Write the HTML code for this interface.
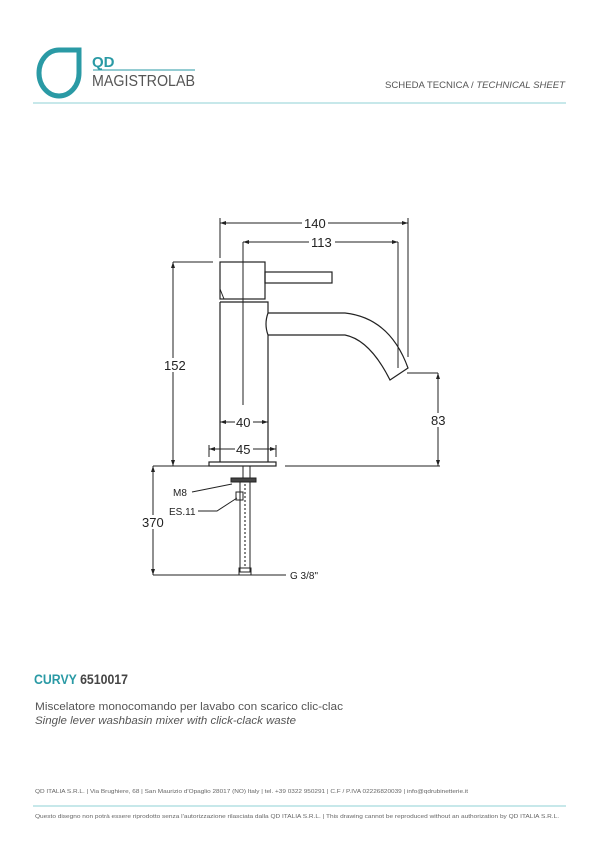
<!DOCTYPE html>
<html><head><meta charset="utf-8"><style>
html,body{margin:0;padding:0;background:#fff;width:600px;height:849px;overflow:hidden}
svg{display:block}
text{font-family:"Liberation Sans",sans-serif}
</style></head><body>
<svg width="600" height="849" viewBox="0 0 600 849" xmlns="http://www.w3.org/2000/svg">
<!-- header -->
<path d="M79,50 L59,50 A20,23 0 0 0 39,73 A20,23 0 0 0 59,96 A20,23 0 0 0 79,73 Z" fill="none" stroke="#2a9aa5" stroke-width="5"/>
<text x="92" y="67" font-size="15" font-weight="bold" fill="#2a9aa5">QD</text>
<line x1="93" y1="70" x2="195" y2="70" stroke="#2a9aa5" stroke-width="1"/>
<text x="92" y="86" font-size="15.5" fill="#555" textLength="103" lengthAdjust="spacingAndGlyphs">MAGISTROLAB</text>
<text x="385" y="88" font-size="9.5" fill="#555" textLength="180" lengthAdjust="spacingAndGlyphs">SCHEDA TECNICA / <tspan font-style="italic">TECHNICAL SHEET</tspan></text>
<line x1="33" y1="103" x2="566" y2="103" stroke="#8fd0d6" stroke-width="1"/>

<g stroke="#222" stroke-width="1" fill="none">
<line x1="220" y1="223" x2="408" y2="223"/>
<line x1="220" y1="218" x2="220" y2="258"/>
<line x1="408" y1="218" x2="408" y2="357"/>
<line x1="243" y1="242" x2="398" y2="242"/>
<line x1="243" y1="242" x2="243" y2="405"/>
<line x1="398" y1="242" x2="398" y2="368"/>
<rect x="220" y="262" width="45" height="37" stroke-width="1.2"/>
<rect x="265" y="272" width="67" height="11" stroke-width="1.2"/>
<path d="M220,289 L224,299" />
<path d="M220,302 L268,302 L268,313 Q264,324 268,335 L268,462 M220,302 L220,462" stroke-width="1.2"/>
<path d="M268,313 L345,313 Q390,318 408,368 L390,380 Q370,340 345,335 L268,335" stroke-width="1.2"/>
<rect x="209" y="462" width="67" height="4" stroke-width="1.2"/>
<line x1="173" y1="262" x2="173" y2="466"/>
<line x1="173" y1="262" x2="213" y2="262"/>
<line x1="438" y1="373" x2="438" y2="466"/>
<line x1="407" y1="373" x2="438" y2="373"/>
<line x1="220" y1="422" x2="268" y2="422"/>
<line x1="209" y1="449" x2="276" y2="449"/>
<line x1="209" y1="445" x2="209" y2="457"/><line x1="276" y1="445" x2="276" y2="457"/>
<line x1="153" y1="466" x2="209" y2="466"/>
<line x1="285" y1="466" x2="440" y2="466"/>
<line x1="153" y1="466" x2="153" y2="575"/>
<line x1="153" y1="575" x2="286" y2="575"/>
<rect x="240" y="482" width="10" height="90"/>
<rect x="243" y="466" width="7" height="12"/>
<rect x="231" y="478" width="25" height="4" fill="#444"/>
<rect x="236" y="492" width="7" height="8"/>
<rect x="239" y="568" width="12" height="7"/>
<path d="M192,492 L232,484 M198,511 L217,511 L237,498"/>
</g>
<g stroke="#444" stroke-width="1.3" stroke-dasharray="2,2">
<line x1="245" y1="484" x2="245" y2="568"/>
</g>
<g fill="#222">
<path d="M220,223 l6,-2 v4z M408,223 l-6,-2 v4z M243,242 l6,-2 v4z M398,242 l-6,-2 v4z"/>
<path d="M173,262 l-2,6 h4z M173,466 l-2,-6 h4z M438,373 l-2,6 h4z M438,466 l-2,-6 h4z"/>
<path d="M220,422 l6,-2 v4z M268,422 l-6,-2 v4z M209,449 l6,-2 v4z M276,449 l-6,-2 v4z"/>
<path d="M153,466 l-2,6 h4z M153,575 l-2,-6 h4z"/>
</g>
<g font-size="13" fill="#222">
<rect x="302" y="216" width="26" height="14" fill="#fff"/>
<text x="304" y="228">140</text>
<rect x="309" y="235" width="26" height="14" fill="#fff"/>
<text x="311" y="247">113</text>
<rect x="162" y="358" width="26" height="14" fill="#fff"/>
<text x="164" y="370">152</text>
<rect x="430" y="413" width="18" height="14" fill="#fff"/>
<text x="431" y="425">83</text>
<rect x="235" y="415" width="18" height="14" fill="#fff"/>
<text x="236" y="427">40</text>
<rect x="235" y="442" width="18" height="14" fill="#fff"/>
<text x="236" y="454">45</text>
<rect x="142" y="515" width="24" height="14" fill="#fff"/>
<text x="142" y="527">370</text>
</g>
<g font-size="10" fill="#222">
<text x="173" y="496">M8</text>
<text x="169" y="515">ES.11</text>
<text x="290" y="579">G 3/8"</text>
</g>
<!-- footer -->
<text x="34" y="684" font-size="13.5" font-weight="bold" fill="#2a9aa5" textLength="94" lengthAdjust="spacingAndGlyphs">CURVY <tspan fill="#444">6510017</tspan></text>
<text x="35" y="710" font-size="11" fill="#555" textLength="308" lengthAdjust="spacingAndGlyphs">Miscelatore monocomando per lavabo con scarico clic-clac</text>
<text x="35" y="724" font-size="11" font-style="italic" fill="#555" textLength="261" lengthAdjust="spacingAndGlyphs">Single lever washbasin mixer with click-clack waste</text>
<text x="35" y="793" font-size="5.2" fill="#666" textLength="433" lengthAdjust="spacingAndGlyphs">QD ITALIA S.R.L. | Via Brughiere, 68 | San Maurizio d'Opaglio 28017 (NO) Italy | tel. +39 0322 950291 | C.F / P.IVA 02226820039 | info@qdrubinetterie.it</text>
<line x1="33" y1="806" x2="566" y2="806" stroke="#8fd0d6" stroke-width="1"/>
<text x="35" y="818" font-size="5.2" fill="#666" textLength="524" lengthAdjust="spacingAndGlyphs">Questo disegno non potrà essere riprodotto senza l'autorizzazione rilasciata dalla QD ITALIA S.R.L. | This drawing cannot be reproduced without an authorization by QD ITALIA S.R.L.</text>
</svg>
</body></html>
